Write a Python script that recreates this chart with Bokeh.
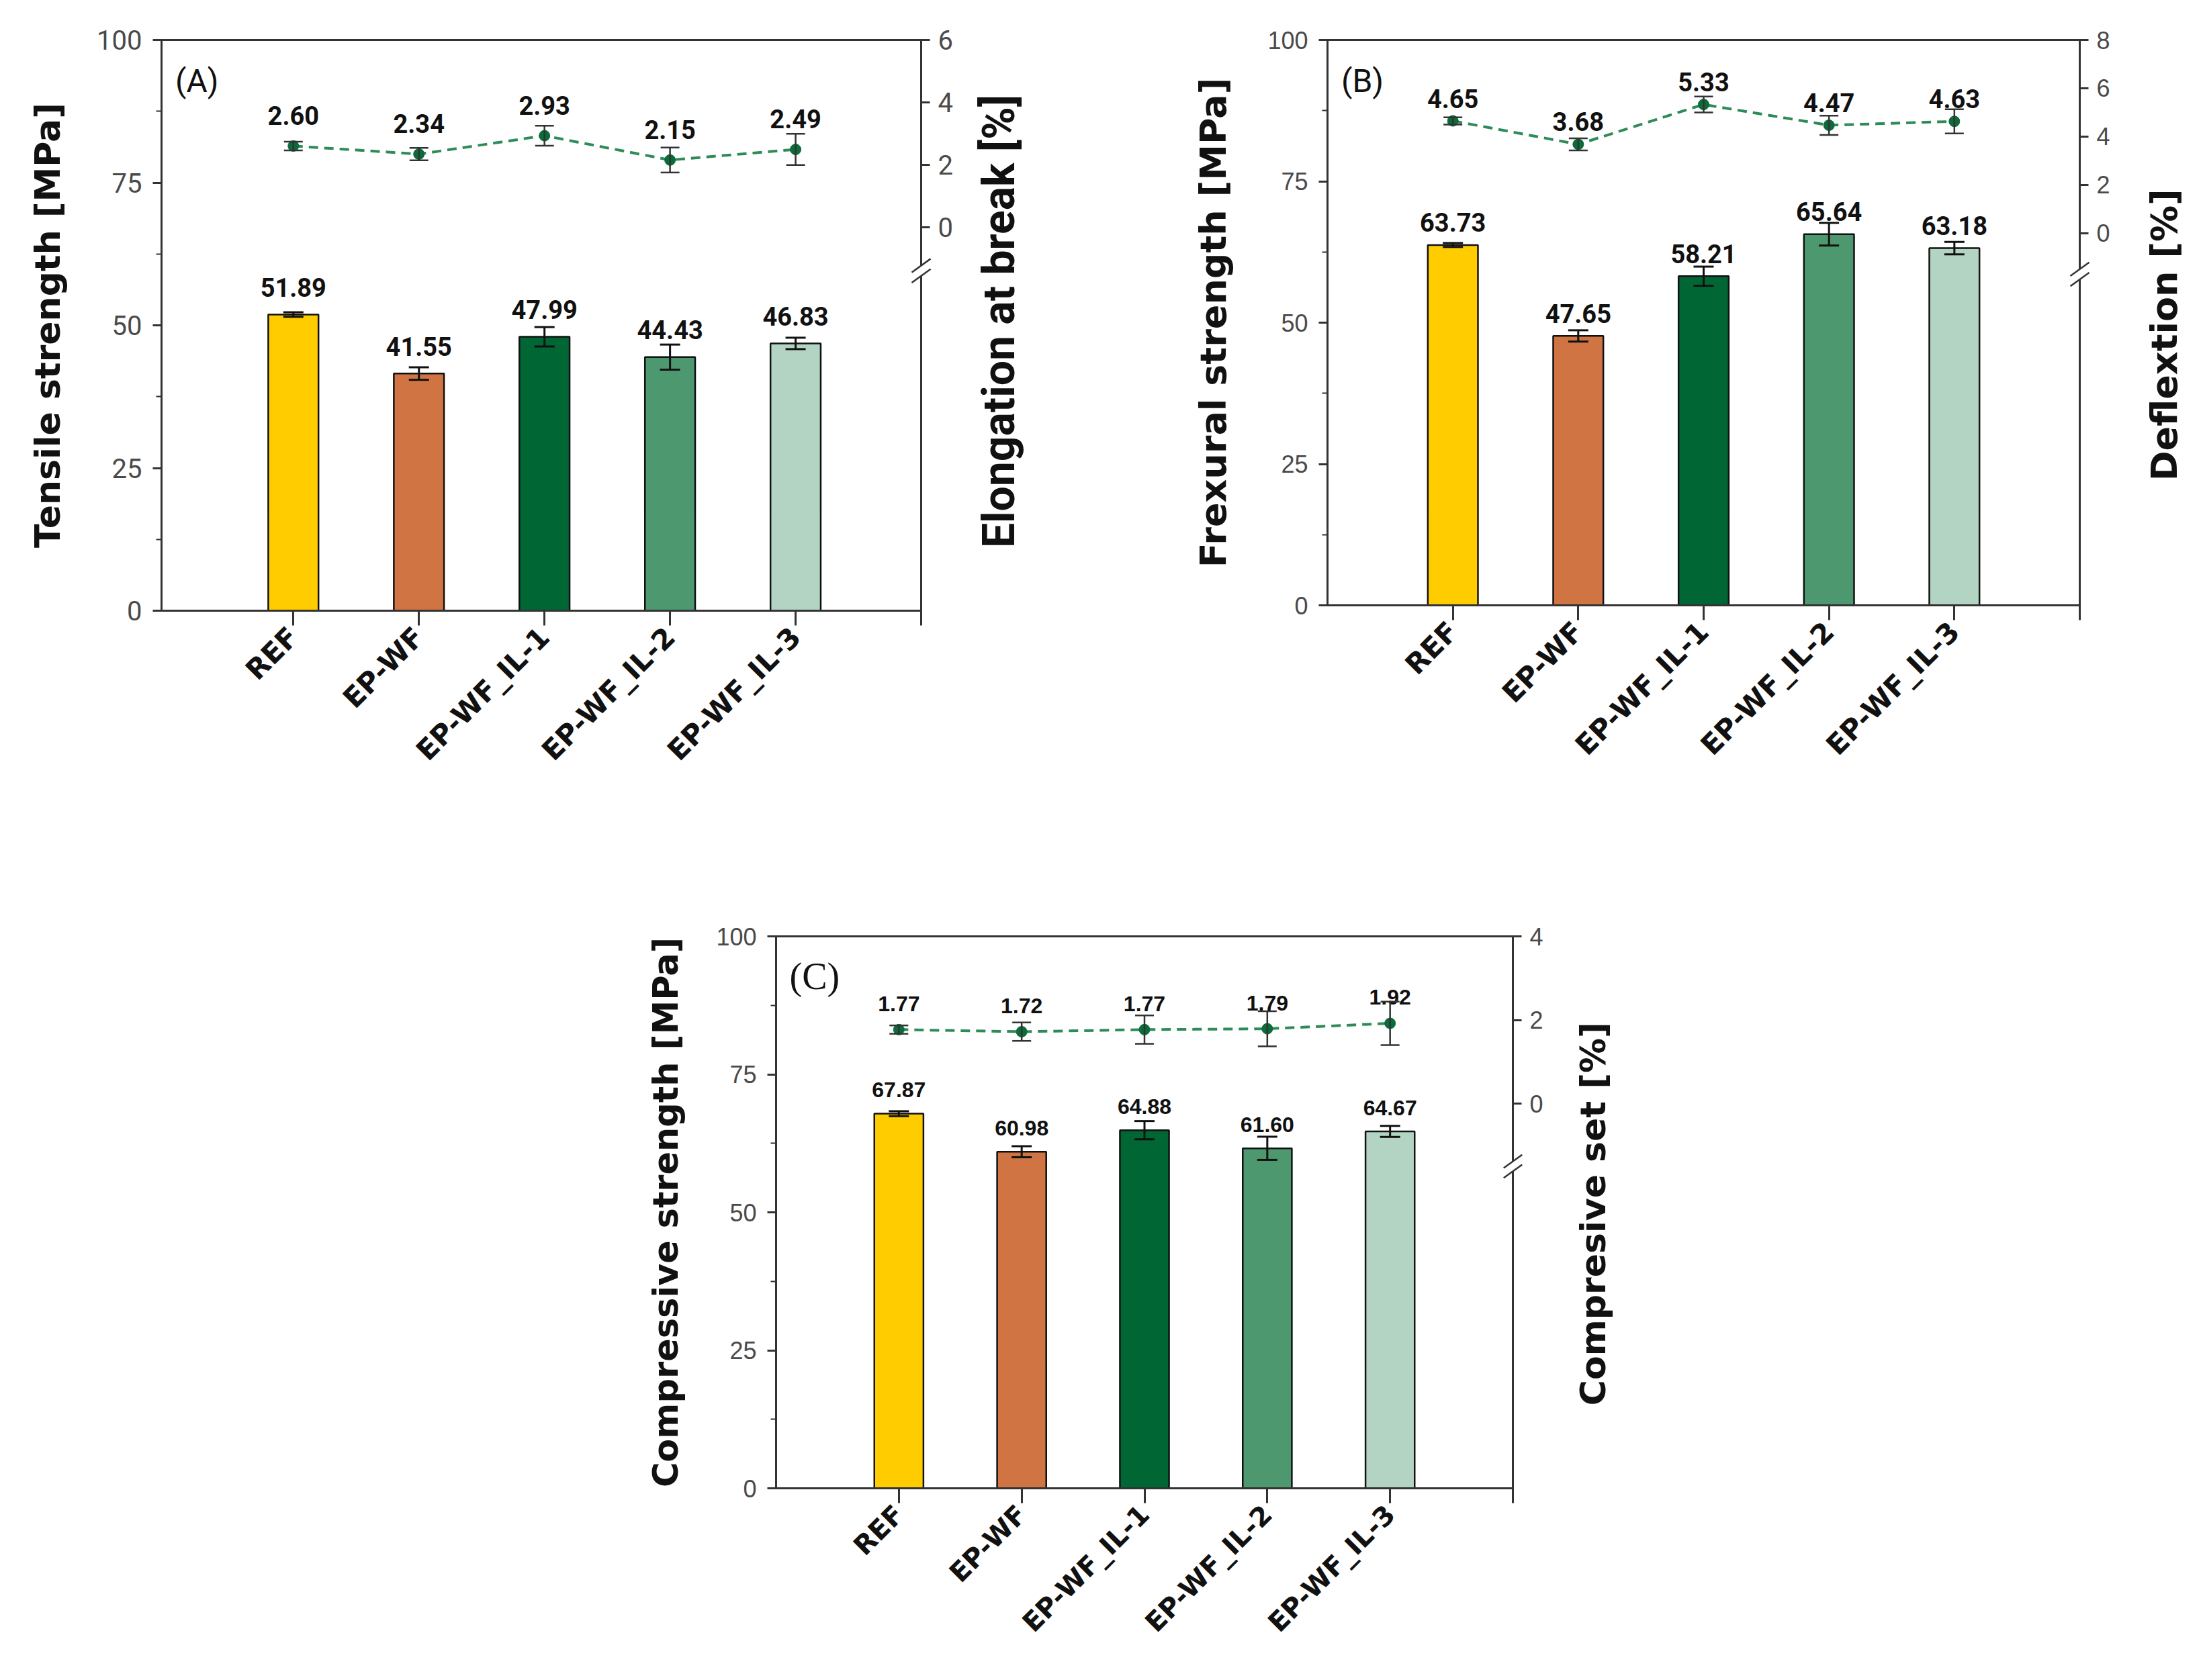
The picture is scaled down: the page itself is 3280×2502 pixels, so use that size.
import math
from bokeh.plotting import figure
from bokeh.layouts import column, row
from bokeh.models import (Range1d, LinearAxis, FixedTicker, Whisker, TeeHead,
                          ColumnDataSource)
from bokeh.core.properties import value
from bokeh.embed import file_html
from bokeh.resources import INLINE

# muestras
cats = ["REF", "EP-WF", "EP-WF_IL-1", "EP-WF_IL-2", "EP-WF_IL-3"]
bar_colors = ["#FFCC00", "#D07444", "#006633", "#4E9870", "#B3D4C2"]

# (A) traccion
tensile = [51.89, 41.55, 47.99, 44.43, 46.83]
tensile_err = [0.4, 1.1, 1.7, 2.2, 1.0]
elong = [2.60, 2.34, 2.93, 2.15, 2.49]
elong_err = [0.14, 0.2, 0.32, 0.4, 0.5]

# (B) flexion
flex = [63.73, 47.65, 58.21, 65.64, 63.18]
flex_err = [0.35, 1.0, 1.7, 2.0, 1.1]
defl = [4.65, 3.68, 5.33, 4.47, 4.63]
defl_err = [0.15, 0.25, 0.33, 0.4, 0.5]

# (C) compresion
comp = [67.87, 60.98, 64.88, 61.60, 64.67]
comp_err = [0.45, 1.0, 1.65, 2.1, 1.0]
cset = [1.77, 1.72, 1.77, 1.79, 1.92]
cset_err = [0.1, 0.22, 0.34, 0.42, 0.52]

left_ticks = [0, 25, 50, 75, 100]
NARROW = "Roboto"
WIDE = "DejaVu Sans"
AXC = "#333333"


def panel(letter, vals, errs, sec, sec_err, ylabel, rlabel, rrange, rticks,
          xr, frame, borders, lab_off, sec_off, brk, fonts):
    fw, fh = frame
    bl, br, bt, bb = borders
    p = figure(frame_width=fw, frame_height=fh, x_range=Range1d(*xr),
               y_range=Range1d(0, 100), output_backend="svg",
               toolbar_location=None, min_border_left=bl, min_border_right=br,
               min_border_top=bt, min_border_bottom=bb)
    p.xgrid.visible = False
    p.ygrid.visible = False
    p.outline_line_color = AXC
    p.outline_line_width = 3
    p.extra_y_ranges = {"r": Range1d(*rrange)}

    xs = list(range(1, len(cats) + 1))
    src = ColumnDataSource(dict(
        x=xs, top=vals, up=[v + e for v, e in zip(vals, errs)],
        lo=[v - e for v, e in zip(vals, errs)], col=bar_colors,
        lab=["%.2f" % v for v in vals], ly=[v + lab_off for v in vals],
        s=sec, sup=[v + e for v, e in zip(sec, sec_err)],
        slo=[v - e for v, e in zip(sec, sec_err)],
        slab=["%.2f" % v for v in sec], sly=[v + sec_off for v in sec]))

    p.vbar(x="x", top="top", width=0.4, source=src, fill_color="col",
           line_color="#111111", line_width=2.5)
    w = Whisker(base="x", upper="up", lower="lo", source=src,
                line_color="#111111", line_width=3, level="annotation",
                upper_head=TeeHead(size=30, line_width=3, line_color="#111111"),
                lower_head=TeeHead(size=30, line_width=3, line_color="#111111"))
    p.add_layout(w)
    p.text(x="x", y="ly", text="lab", source=src, text_align="center",
           text_baseline="middle", text_font=value(fonts["val"]),
           text_font_style="bold", text_font_size=fonts["val_size"],
           text_color="#111111")

    # serie secundaria
    p.line(x="x", y="s", source=src, y_range_name="r", line_color="#2E8B57",
           line_width=4, line_dash="14 9")
    w2 = Whisker(base="x", upper="sup", lower="slo", source=src,
                 y_range_name="r", line_color="#333333", line_width=2.5,
                 level="annotation",
                 upper_head=TeeHead(size=28, line_width=2.5, line_color="#333333"),
                 lower_head=TeeHead(size=28, line_width=2.5, line_color="#333333"))
    p.add_layout(w2)
    p.scatter(x="x", y="s", source=src, y_range_name="r", size=16,
              fill_color="#0B6B3A", line_color="#0B6B3A")
    p.text(x="x", y="sly", text="slab", source=src, y_range_name="r",
           text_align="center", text_baseline="middle",
           text_font=value(fonts["val"]), text_font_style="bold",
           text_font_size=fonts["val_size"], text_color="#111111")

    # letra del panel
    p.text(x=[xr[0] + 0.11], y=[92.8], text=[letter], text_align="left",
           text_baseline="middle", text_font=value(fonts["letter"]),
           text_font_size=fonts["letter_size"], text_color="#111111")

    # eje izquierdo
    ya = p.yaxis[0]
    ya.ticker = FixedTicker(ticks=left_ticks, minor_ticks=[12.5, 37.5, 62.5, 87.5])
    ya.axis_label = ylabel
    ya.axis_label_text_font = WIDE
    ya.axis_label_text_font_style = "bold"
    ya.axis_label_text_font_size = fonts["ylab_size"]
    ya.axis_label_text_color = "#111111"
    ya.axis_label_standoff = fonts["ylab_standoff"]
    ya.major_label_text_font = fonts["tick"]
    ya.major_label_text_font_size = fonts["tick_size"]
    ya.major_label_text_color = "#4a4a4a"
    ya.major_label_standoff = 16
    ya.axis_line_color = AXC
    ya.axis_line_width = 3
    ya.major_tick_line_color = AXC
    ya.major_tick_line_width = 3
    ya.major_tick_out = 13
    ya.major_tick_in = 0
    ya.minor_tick_line_color = AXC
    ya.minor_tick_line_width = 2
    ya.minor_tick_out = 8
    ya.minor_tick_in = 0

    # eje derecho
    ra = LinearAxis(y_range_name="r", ticker=FixedTicker(ticks=rticks))
    ra.major_label_text_font = fonts["tick"]
    ra.major_label_text_font_size = fonts["tick_size"]
    ra.major_label_text_color = "#4a4a4a"
    ra.major_label_standoff = 12
    ra.axis_line_color = AXC
    ra.axis_line_width = 3
    ra.major_tick_line_color = AXC
    ra.major_tick_line_width = 3
    ra.major_tick_out = 13
    ra.major_tick_in = 0
    ra.minor_tick_line_color = None
    p.add_layout(ra, "right")

    # titulo del eje derecho (leido de abajo hacia arriba): una etiqueta
    # girada en un eje auxiliar sin linea ni marcas
    y0 = fonts["rlab_y0"]
    rt = LinearAxis(ticker=FixedTicker(ticks=[y0]),
                    major_label_overrides={y0: rlabel})
    rt.major_label_orientation = math.pi / 2
    rt.major_label_text_font = fonts["rlab"]
    rt.major_label_text_font_style = "bold"
    rt.major_label_text_font_size = fonts["rlab_size"]
    rt.major_label_text_color = "#111111"
    rt.major_label_standoff = fonts["rlab_standoff"]
    rt.axis_line_color = None
    rt.major_tick_line_color = None
    rt.minor_tick_line_color = None
    p.add_layout(rt, "right")

    # marca de corte del eje derecho
    dx = 0.075
    h = (rrange[1] - rrange[0]) * 0.012
    g = (rrange[1] - rrange[0]) * 0.009
    p.segment(x0=[xr[1]], y0=[brk - g], x1=[xr[1]], y1=[brk + g],
              y_range_name="r", line_color="white", line_width=8, level="overlay")
    p.segment(x0=[xr[1] - dx, xr[1] - dx], y0=[brk - g - h, brk + g - h],
              x1=[xr[1] + dx, xr[1] + dx], y1=[brk - g + h, brk + g + h],
              y_range_name="r", line_color=AXC, line_width=2.5, level="overlay")

    # eje inferior
    xa = p.xaxis[0]
    xa.ticker = FixedTicker(ticks=xs + [6])
    overrides = {i + 1: c for i, c in enumerate(cats)}
    overrides[6] = ""
    xa.major_label_overrides = overrides
    xa.major_label_orientation = math.pi / 4
    xa.major_label_text_font = WIDE
    xa.major_label_text_font_style = "bold"
    xa.major_label_text_font_size = fonts["x_size"]
    xa.major_label_text_color = "#111111"
    xa.major_label_standoff = 10
    xa.axis_line_color = AXC
    xa.axis_line_width = 3
    xa.major_tick_line_color = AXC
    xa.major_tick_line_width = 3
    xa.major_tick_out = 22
    xa.major_tick_in = 0
    xa.minor_tick_line_color = None
    return p


fa = dict(val=NARROW, val_size="38px", letter=NARROW, letter_size="48px",
          tick=NARROW, tick_size="40px", ylab_size="52px", ylab_standoff=40,
          rlab=NARROW, rlab_size="66px", rlab_y0=11, rlab_standoff=60,
          x_size="42px")
fb = dict(val=NARROW, val_size="38px", letter=NARROW, letter_size="48px",
          tick="Liberation Sans", tick_size="36px", ylab_size="54px", ylab_standoff=46,
          rlab=WIDE, rlab_size="54px", rlab_y0=22, rlab_standoff=72, x_size="42px")
fc = dict(val="Liberation Sans", val_size="32px", letter="Liberation Serif",
          letter_size="56px", tick="Liberation Sans", tick_size="36px",
          ylab_size="51px", ylab_standoff=42, rlab=WIDE, rlab_size="52px",
          rlab_y0=15, rlab_standoff=66, x_size="40px")

pa = panel("(A)", tensile, tensile_err, elong, elong_err,
           "Tensile strength [MPa]", "Elongation at break [%]",
           (-12.3, 6), [0, 2, 4, 6], (-0.05, 6), (1131, 850), (240, 229, 50, 300),
           4.8, 0.97, -1.4, fa)
pb = panel("(B)", flex, flex_err, defl, defl_err,
           "Frexural strength [MPa]", "Deflextion [%]",
           (-15.4, 8), [0, 2, 4, 6, 8], (0, 6), (1120, 842), (376, 168, 59, 299),
           4.0, 0.93, -1.7, fb)
pc = panel("(C)", comp, comp_err, cset, cset_err,
           "Compressive strength [MPa]", "Compresive set [%]",
           (-9.2, 4), [0, 2, 4], (0, 6), (1097, 822), (1155, 200, 194, 270),
           4.3, 0.62, -1.5, fc)

layout = column(row(pa, pb), pc)
open("out.html", "w").write(file_html(layout, INLINE))
